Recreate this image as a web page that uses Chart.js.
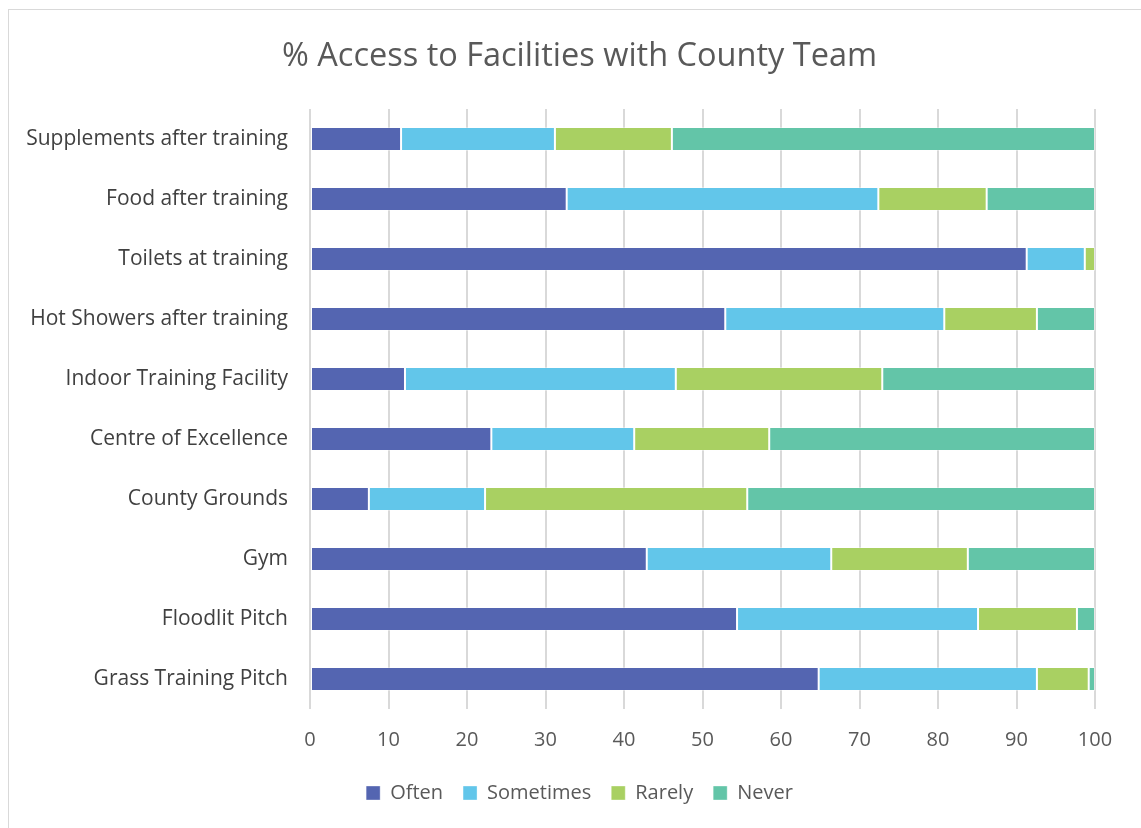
<!DOCTYPE html>
<html>
<head>
<meta charset="utf-8">
<script src="https://cdn.jsdelivr.net/npm/chart.js@4"></script>
<style>
  html, body { margin: 0; padding: 0; background: #fff; overflow: hidden; }
  #frame {
    position: absolute; left: 8px; top: 9px;
    width: 1140px; height: 830px;
    border: 1px solid #d9d9d9; box-sizing: border-box;
  }
  #wrap { position: absolute; left: 0; top: 0; width: 1133px; height: 819px; }
</style>
</head>
<body>
<div id="frame"><div id="wrap"><canvas id="chart"></canvas></div></div>
<script>
// categories, top to bottom
const categories = [
  'Supplements after training',
  'Food after training',
  'Toilets at training',
  'Hot Showers after training',
  'Indoor Training Facility',
  'Centre of Excellence',
  'County Grounds',
  'Gym',
  'Floodlit Pitch',
  'Grass Training Pitch'
];

// % of responses per category
const often     = [11.6, 32.7, 91.3, 52.9, 12.1, 23.1,  7.5, 42.9, 54.4, 64.8];
const sometimes = [19.6, 39.7,  7.4, 27.9, 34.5, 18.2, 14.8, 23.5, 30.7, 27.8];
const rarely    = [14.9, 13.8,  1.3, 11.8, 26.3, 17.2, 33.4, 17.4, 12.6,  6.6];
const never     = [53.9, 13.8,  0.0,  7.4, 27.1, 41.5, 44.3, 16.2,  2.3,  0.8];

const seriesNames = ['Often', 'Sometimes', 'Rarely', 'Never'];
const seriesColors = ['#5465b1', '#62c6ea', '#a9d062', '#63c5a8'];

const font = "'Open Sans', sans-serif";
const textColor = '#595959';

const ctx = document.getElementById('chart').getContext('2d');

new Chart(ctx, {
  type: 'bar',
  data: {
    labels: categories,
    datasets: [often, sometimes, rarely, never].map((d, i) => ({
      label: seriesNames[i],
      data: d,
      backgroundColor: seriesColors[i],
      borderColor: 'rgba(255,255,255,0.35)',
      borderWidth: 1,
      borderSkipped: false,
      barPercentage: 0.8,
      categoryPercentage: 0.5
    }))
  },
  options: {
    indexAxis: 'y',
    responsive: true,
    maintainAspectRatio: false,
    animation: false,
    layout: { padding: { left: 8, right: 0, top: 14, bottom: 16 } },
    scales: {
      x: {
        stacked: true,
        min: 0,
        max: 100,
        afterFit: (axis) => { axis.height = 54; },
        ticks: {
          stepSize: 10,
          color: textColor,
          padding: 19,
          font: { family: font, size: 20 }
        },
        grid: { color: '#d9d9d9', lineWidth: 2, drawTicks: false },
        border: { display: false }
      },
      y: {
        stacked: true,
        afterFit: (axis) => { axis.width = 293; },
        ticks: {
          color: '#404040',
          padding: 22,
          font: { family: font, size: 21 }
        },
        grid: { display: false, drawTicks: false },
        border: { display: false }
      },
      // empty right-hand spacer so the plot ends where the reference does
      spacer: {
        type: 'category',
        position: 'right',
        axis: 'y',
        afterFit: (axis) => { axis.width = 47; },
        ticks: { display: false },
        grid: { display: false, drawTicks: false },
        border: { display: false }
      }
    },
    plugins: {
      title: {
        display: true,
        text: '% Access to Facilities with County Team',
        color: textColor,
        font: { family: font, size: 32.5, weight: 'normal' },
        padding: { top: 13, bottom: 33 }
      },
      legend: {
        position: 'bottom',
        labels: {
          color: textColor,
          font: { family: font, size: 20 },
          boxWidth: 14,
          boxHeight: 14,
          padding: 20
        }
      },
      tooltip: { enabled: false }
    }
  }
});
</script>
</body>
</html>
